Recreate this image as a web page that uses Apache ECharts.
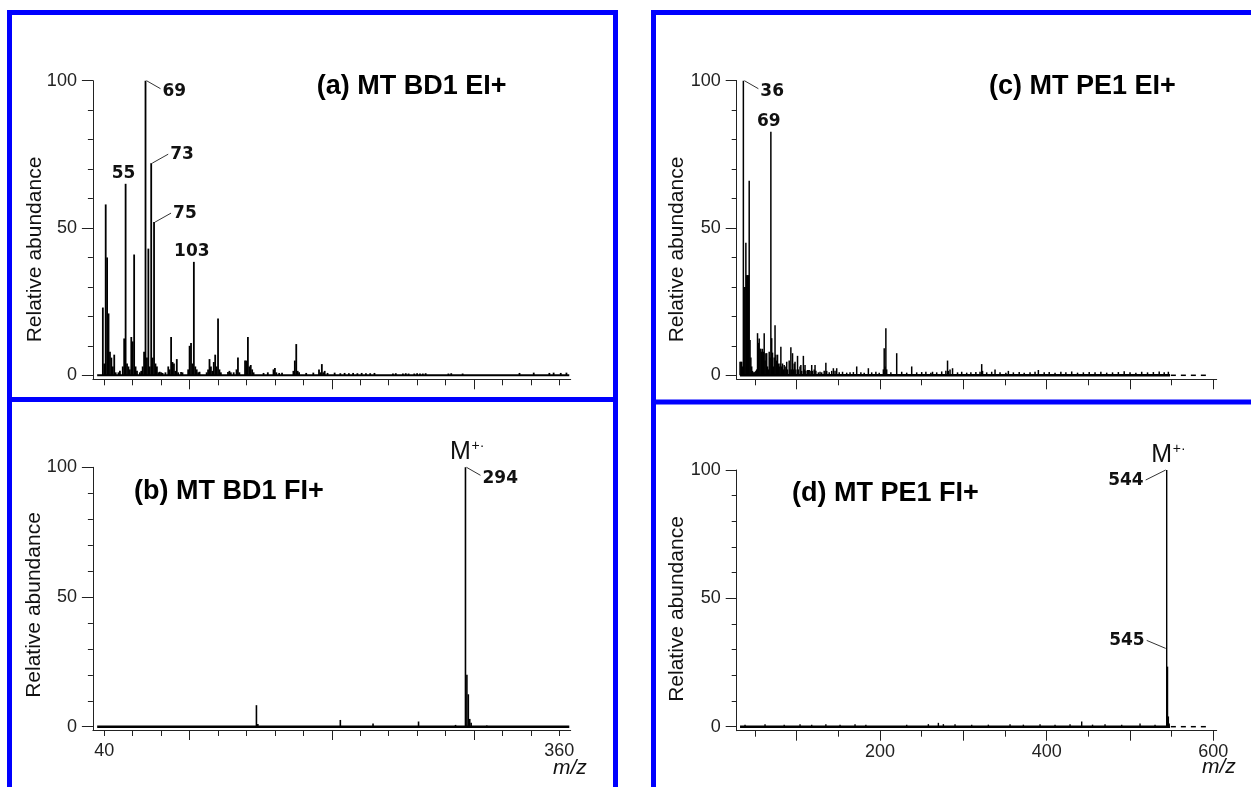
<!DOCTYPE html>
<html><head><meta charset="utf-8">
<script src="https://cdn.jsdelivr.net/npm/echarts@6/dist/echarts.min.js"></script>
<style>html,body{margin:0;padding:0;background:#fff}#c{width:1251px;height:787px}</style>
</head><body><div id="c"></div>
<script>
// ---------- Panel (a) MT BD1 EI+ ----------
const mzA = [39,40,41,42,43,44,45,46,47,48,
  50,51,53,54,55,56,57,58,59,60,
  61,62,63,65,66,67,68,69,70,71,
  72,73,74,75,76,77,78,79,80,81,
  83,85,86,87,88,89,90,91,92,94,
  95,99,100,101,102,103,104,105,106,107,
  112,113,114,115,116,117,118,119,120,121,
  122,127,128,129,131,133,134,135,139,140,
  141,142,143,144,145,152,155,159,160,161,
  163,165,173,174,175,176,177,182,187,191,
  192,193,194,195,197,202,206,209,212,215,
  218,221,224,227,230,243,245,250,252,254,
  258,260,262,264,266,282,284,292,332,342,
  353,356,361,365];
const intA = [23,4,58,40,21,8,6,3,7,1,
  1,1.5,3,12.5,65,4,3,2,13,11.5,
  41,3,1.5,1,1.5,3,8,100,6,43,
  3,72,6,52,4,3,1,1.2,1,0.8,
  1,3,2,13,4.5,4,1.5,5.5,1,1.1,
  1,2,10,11,4,38.5,3,2,1,1.2,
  1,2,5.5,3,1.5,4.5,7,3,19.3,2,
  1,1.1,1.5,1,1,2,6,1,5,5,
  13,3,3.5,2,1,0.8,1,2,2.5,1,
  0.8,0.9,1.5,5,10.6,1.5,1,0.8,0.9,2,
  1,3.8,1,1.5,0.8,0.9,0.7,0.8,0.7,0.8,
  0.7,0.8,0.7,0.7,0.8,0.6,0.7,0.6,0.7,0.6,
  0.6,0.7,0.6,0.6,0.7,0.6,0.7,0.6,0.8,0.9,
  0.8,0.9,0.8,0.9];
const annMzA = [69,73,75,55,103];
const annValA = [100,72,52,65,38.5];
const annTextA = ['69','73','75','55','103'];
const annDirA = ['rd','ru','ru','top','top'];

// ---------- Panel (b) MT BD1 FI+ ----------
const mzB = [147,148,206,229,261,287,294,295,296,297,298,309];
const intB = [8.3,1,2.6,1.2,2,0.7,100,20,12.5,3,1.5,0.5];
const annMzB = [294,294];
const annValB = [100,100];
const annTextB = ['294','M'];
const annDirB = ['rd','M'];

// ---------- Panel (c) MT PE1 EI+ ----------
const mzC = [32,33,34,35,36,37,38,39,40,41,
  42,43,44,45,46,47,48,49,50,51,
  52,53,54,55,56,57,58,59,60,61,
  62,63,64,65,66,67,68,69,70,71,
  72,73,74,75,76,77,78,79,80,81,
  82,83,84,85,86,87,88,89,91,92,
  93,94,95,96,97,98,99,101,102,104,
  105,106,108,109,110,111,113,114,115,117,
  118,119,121,122,123,126,128,130,133,135,
  136,139,142,144,146,148,151,155,160,164,
  168,172,177,181,186,190,195,199,204,205,
  206,207,208,213,220,226,232,238,244,250,
  255,261,263,268,274,279,281,282,284,287,
  293,298,304,309,315,320,322,323,328,334,
  338,344,351,354,360,367,373,380,386,390,
  397,403,410,417,423,430,437,444,451,458,
  465,472,479,486,493,500,507,514,521,528,
  535,541,546];
const intC = [4.6,4.6,4.6,3,100,30,30,45,34,34,
  34,66,12,6,3,1.5,1,1,1.2,1.5,
  2,14.3,11,12.5,9,9,8,9,8,14.3,
  5,7.5,7.5,3,2,8,6,82.7,12.6,7.7,
  3,6,17,7,5,7,4,3,4,9.7,
  3,4,2,3.5,2,3,4.6,2,5,2,
  9.5,2,7.5,2,4,4.6,2,6.6,2,3,
  3.5,1.5,6.6,2,3.5,1.5,1.8,1.8,1.8,1.5,
  3.5,1.5,2,3.5,1.5,1,1.2,1,1.5,4.3,
  1.5,1,1.5,2.4,1.5,2.4,1,1.2,0.9,1,
  1.1,3,1,0.9,2.4,1,1.2,0.9,2,9.2,
  3,16,2,1,7.5,1.2,0.9,3,1,1.1,
  1.2,0.9,1.2,1,1.3,1.5,5,1.5,2,2.4,
  1,1.2,0.9,1,1.1,1.2,3.8,1.5,1,1.2,
  2,1,0.9,1.5,1,1.1,0.9,1,1.2,1.8,
  1,1.1,0.9,1.2,1,1.3,0.9,1,1.1,1,
  1.2,0.9,1,1.1,1.4,1,0.9,1.2,1,1.1,
  1.3,1,1.2];
const annMzC = [36,69];
const annValC = [100,82.7];
const annTextC = ['36','69'];
const annDirC = ['rd','top'];

// ---------- Panel (d) MT PE1 FI+ ----------
const mzD = [38,62,85,104,118,135,152,170,183,232,258,270,276,290,310,330,356,372,392,410,428,442,455,470,490,512,530,544,545,546,547];
const intD = [0.8,1,0.8,1,0.8,1,0.8,1,0.8,0.8,1,1.5,1,1,0.8,0.8,1,0.8,1,0.8,1,2,0.8,1,0.8,1.2,0.8,100,23.4,4,1.2];
const annMzD = [544,544,544];
const annValD = [100,30.5,100];
const annTextD = ['544','545','M'];
const annDirD = ['ld','lu','M'];

// ---------- axes ticks / labels ----------
const xTicksAB = [40,60,80,100,120,140,160,180,200,220,240,260,280,300,320,340,360];
const xMajorAB = [100,200,300];
const xLabelsB = [40,360];
const xTicksCD = [50,100,150,200,250,300,350,400,450,500,550,600];
const xMajorCD = [100,200,300,400,500,600];
const xLabelsD = [200,400,600];
const yTicks = [0,10,20,30,40,50,60,70,80,90,100];
const yMajor = [0,50,100];
const yLabels = [0,50,100];
// data baselines (m/z range of recorded signal)
const baseA = [35,367], baseB = [35,367], baseC = [32,548], baseD = [32,548];
const dashC = [549,596], dashD = [549,596];

const SANS = '"Liberation Sans", Arial, Helvetica, sans-serif';
const PK = '"DejaVu Sans", Verdana, sans-serif';
const AX = '#222';

const panels = [
  {grid:{left:92.9, top:80.7, width:477.8, height:298.6}, xr:[32,368], yMin:-1.36,
   ticks:xTicksAB, major:xMajorAB, labels:[], mz:mzA, it:intA, w:1.8, base:baseA, dash:null, bw:2,
   ann:[annMzA,annValA,annTextA,annDirA]},
  {grid:{left:92.9, top:467.3, width:477.8, height:262.7}, xr:[32,368], yMin:-1.27,
   ticks:xTicksAB, major:xMajorAB, labels:xLabelsB, mz:mzB, it:intB, w:1.6, base:baseB, dash:null, bw:2.5,
   ann:[annMzB,annValB,annTextB,annDirB]},
  {grid:{left:736.7, top:80.7, width:480, height:298.6}, xr:[28,604], yMin:-1.36,
   ticks:xTicksCD, major:xMajorCD, labels:[], mz:mzC, it:intC, w:1.5, base:baseC, dash:dashC, bw:2.5,
   ann:[annMzC,annValC,annTextC,annDirC]},
  {grid:{left:736.7, top:470, width:480, height:260.7}, xr:[28,604], yMin:-1.56,
   ticks:xTicksCD, major:xMajorCD, labels:xLabelsD, mz:mzD, it:intD, w:1.4, base:baseD, dash:dashD, bw:2.5,
   ann:[annMzD,annValD,annTextD,annDirD]}
];

const grids = [], xAxes = [], yAxes = [], series = [];
panels.forEach((p, i) => {
  grids.push(Object.assign({containLabel:false}, p.grid));
  const xBase = {type:'value', gridIndex:i, min:p.xr[0], max:p.xr[1], position:'bottom', splitLine:{show:false}};
  xAxes.push(Object.assign({}, xBase, {
    axisLine:{show:true, onZero:false, lineStyle:{color:AX, width:1}},
    axisTick:{show:true, customValues:p.ticks, length:6, lineStyle:{color:AX, width:1}},
    axisLabel:{show:p.labels.length>0, customValues:p.labels, margin:12, color:AX, fontSize:18, fontFamily:SANS}
  }));
  xAxes.push(Object.assign({}, xBase, {
    axisLine:{show:false, onZero:false},
    axisTick:{show:true, customValues:p.major, length:10, lineStyle:{color:AX, width:1}},
    axisLabel:{show:false}
  }));
  const yBase = {type:'value', gridIndex:i, min:p.yMin, max:100, position:'left', splitLine:{show:false}};
  yAxes.push(Object.assign({}, yBase, {
    axisLine:{show:true, onZero:false, lineStyle:{color:AX, width:1}},
    axisTick:{show:true, customValues:yTicks, length:5, lineStyle:{color:AX, width:1}},
    axisLabel:{show:false}
  }));
  yAxes.push(Object.assign({}, yBase, {
    axisLine:{show:false, onZero:false},
    axisTick:{show:true, customValues:yMajor, length:11, lineStyle:{color:AX, width:1}},
    axisLabel:{show:true, customValues:yLabels, margin:16, color:AX, fontSize:18, fontFamily:SANS}
  }));
  const xi = 2*i, yi = 2*i;
  series.push({type:'line', xAxisIndex:xi, yAxisIndex:yi, data:[[p.base[0],0],[p.base[1],0]],
    symbol:'none', silent:true, lineStyle:{color:'#000', width:p.bw}, z:2});
  if (p.dash) series.push({type:'line', xAxisIndex:xi, yAxisIndex:yi, data:[[p.dash[0],0],[p.dash[1],0]],
    symbol:'none', silent:true, lineStyle:{color:'#000', width:1.5, type:[5,5]}, z:2});
  const w = p.w;
  series.push({type:'custom', xAxisIndex:xi, yAxisIndex:yi, clip:false, silent:true, z:3,
    data:p.mz.map((m,k)=>[m,p.it[k]]),
    renderItem:(params, api)=>{
      const m = api.value(0), v = api.value(1);
      const p0 = api.coord([m,0]), p1 = api.coord([m,v]);
      return {type:'rect', shape:{x:p0[0]-w/2, y:p1[1], width:w, height:Math.max(0.5,p0[1]-p1[1])}, style:{fill:'#000'}};
    }});
  const [am, av, at, ad] = p.ann;
  series.push({type:'custom', xAxisIndex:xi, yAxisIndex:yi, clip:false, silent:true, z:4,
    data:am.map((m,k)=>[m,av[k]]),
    renderItem:(params, api)=>{
      const k = params.dataIndex, d = ad[k], t = at[k];
      const c = api.coord([api.value(0), api.value(1)]);
      const x = c[0], y = c[1];
      const ln = (x1,y1,x2,y2)=>({type:'line', shape:{x1,y1,x2,y2}, style:{stroke:'#333', lineWidth:1}});
      const tx = (xx,yy,al)=>({type:'text', x:xx, y:yy, style:{text:t, fill:'#111', fontSize:17, fontWeight:'bold', fontFamily:PK, align:al, verticalAlign:'middle'}});
      let ch = [];
      if (d==='rd') ch = [ln(x+1,y,x+15,y+8), tx(x+17,y+11,'left')];
      else if (d==='ru') ch = [ln(x+1,y,x+17,y-9), tx(x+19,y-9,'left')];
      else if (d==='ld') ch = [ln(x-1,y,x-21,y+10), tx(x-23,y+11,'right')];
      else if (d==='lu') ch = [ln(x-1,y,x-20,y-8), tx(x-22,y-8,'right')];
      else if (d==='top') ch = [tx(x-2,y-10,'center')];
      else if (d==='M') ch = [
        {type:'text', x:x-5, y:y-15, style:{text:'M', fill:'#111', fontSize:25, fontFamily:SANS, align:'center', verticalAlign:'middle'}},
        {type:'text', x:x+6, y:y-21, style:{text:'+·', fill:'#111', fontSize:14, fontFamily:SANS, align:'left', verticalAlign:'middle'}}
      ];
      return {type:'group', children:ch};
    }});
});

const blue = '#0000ff';
const txt = (x,y,text,extra)=>Object.assign({type:'text', x, y, silent:true,
  style:Object.assign({text, fill:'#000', fontFamily:SANS, align:'left', verticalAlign:'middle'}, extra.style||{})}, extra.el||{});
const graphic = [
  {type:'polyline', silent:true, shape:{points:[[9.5,790],[9.5,12.5],[615.5,12.5],[615.5,790]]}, style:{stroke:blue, lineWidth:5, fill:'none'}},
  {type:'line', silent:true, shape:{x1:9.5,y1:399.5,x2:615.5,y2:399.5}, style:{stroke:blue, lineWidth:5}},
  {type:'polyline', silent:true, shape:{points:[[653.5,790],[653.5,12.5],[1255,12.5]]}, style:{stroke:blue, lineWidth:5, fill:'none'}},
  {type:'line', silent:true, shape:{x1:653.5,y1:402,x2:1255,y2:402}, style:{stroke:blue, lineWidth:5}},
  txt(316.7, 87, '(a) MT BD1 EI+', {style:{fontSize:27, fontWeight:'bold'}}),
  txt(134, 491.5, '(b) MT BD1 FI+', {style:{fontSize:27, fontWeight:'bold'}}),
  txt(989, 87, '(c) MT PE1 EI+', {style:{fontSize:27, fontWeight:'bold'}}),
  txt(792, 494, '(d) MT PE1 FI+', {style:{fontSize:27, fontWeight:'bold'}}),
  txt(35, 249.5, 'Relative abundance', {style:{fontSize:21, align:'center', fill:'#111'}, el:{rotation:Math.PI/2}}),
  txt(34, 605, 'Relative abundance', {style:{fontSize:21, align:'center', fill:'#111'}, el:{rotation:Math.PI/2}}),
  txt(677.5, 249.5, 'Relative abundance', {style:{fontSize:21, align:'center', fill:'#111'}, el:{rotation:Math.PI/2}}),
  txt(677, 609, 'Relative abundance', {style:{fontSize:21, align:'center', fill:'#111'}, el:{rotation:Math.PI/2}}),
  txt(553, 768, 'm/z', {style:{fontSize:21, fontStyle:'italic', fill:'#111'}}),
  txt(1202, 767, 'm/z', {style:{fontSize:21, fontStyle:'italic', fill:'#111'}})
];

const chart = echarts.init(document.getElementById('c'), null, {renderer:'canvas'});
chart.setOption({
  animation:false,
  backgroundColor:'#fff',
  grid:grids, xAxis:xAxes, yAxis:yAxes, series, graphic
});
</script>
</body></html>
